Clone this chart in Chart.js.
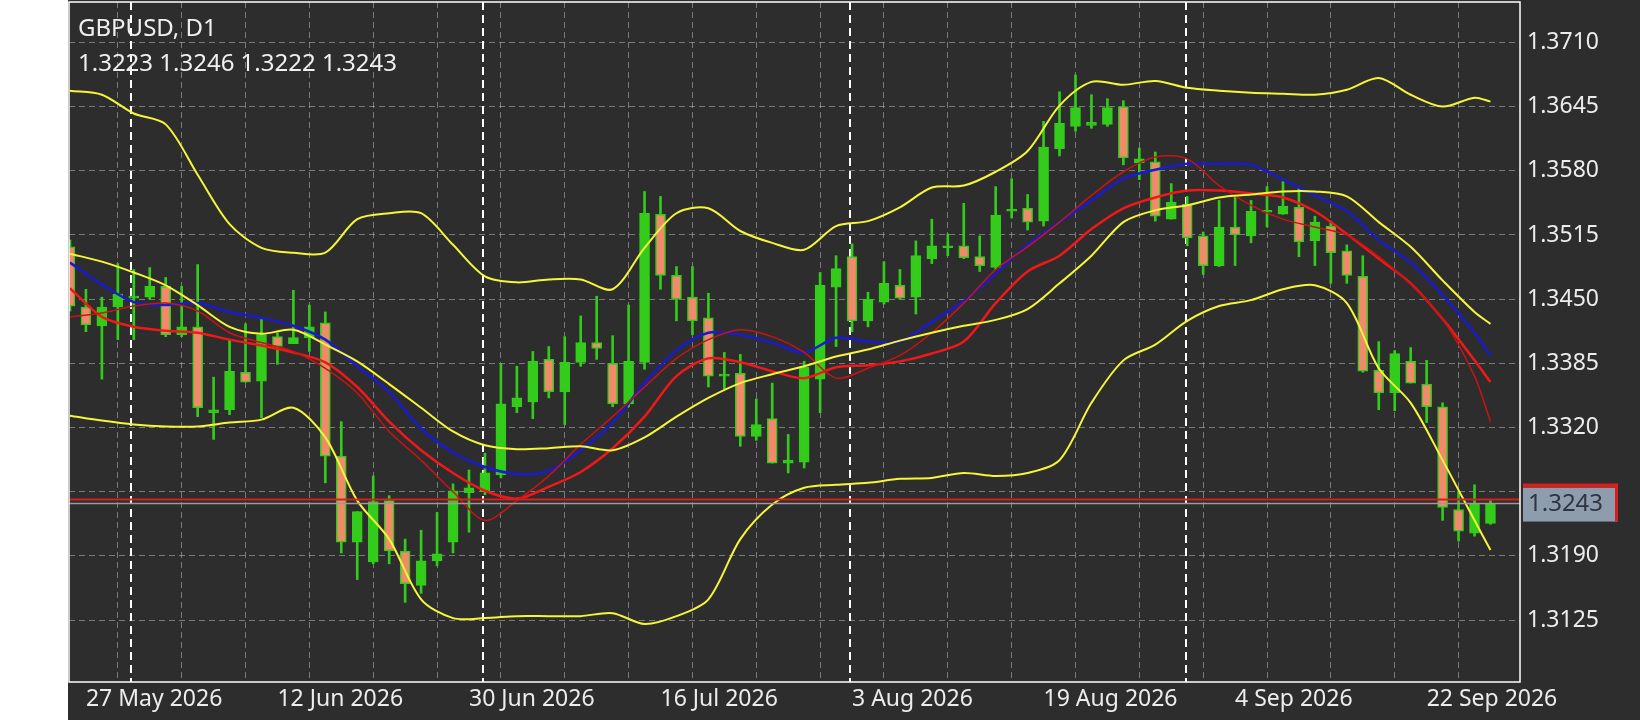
<!DOCTYPE html>
<html><head><meta charset="utf-8">
<script src="https://cdn.jsdelivr.net/npm/chart.js@4"></script>
<style>html,body{margin:0;padding:0;background:#2d2d2d;}#wrap{width:1640px;height:720px;}</style>
</head><body><div id="wrap"><canvas id="c" width="1640" height="720"></canvas></div>
<script>
const symbolTitle = "GBPUSD, D1";
const ohlcTitle = "1.3223 1.3246 1.3222 1.3243";
const opens  = [1.3503,1.3442,1.3423,1.3442,1.3451,1.3452,1.3463,1.3414,1.3422,1.3335,1.3338,1.3376,1.3367,1.3412,1.3405,1.3411,1.3426,1.3291,1.3204,1.3184,1.3246,1.3195,1.3160,1.3185,1.3204,1.3254,1.3255,1.3272,1.3341,1.3346,1.3389,1.3356,1.3386,1.3406,1.3385,1.3344,1.3386,1.3536,1.3474,1.3452,1.3431,1.3372,1.3375,1.3311,1.3329,1.3284,1.3285,1.3369,1.3462,1.3493,1.3428,1.3447,1.3464,1.3452,1.3491,1.3502,1.3504,1.3493,1.3482,1.3539,1.3542,1.3529,1.3602,1.3625,1.3626,1.3627,1.3645,1.3588,1.3589,1.3531,1.3546,1.3514,1.3484,1.3523,1.3514,1.3538,1.3536,1.3543,1.3509,1.3524,1.3499,1.3473,1.3378,1.3355,1.3387,1.3364,1.3341,1.3237,1.3213,1.3223];
const highs  = [1.3510,1.3460,1.3452,1.3486,1.3480,1.3482,1.3472,1.3463,1.3485,1.3371,1.3409,1.3425,1.3430,1.3416,1.3459,1.3444,1.3437,1.3326,1.3235,1.3271,1.3251,1.3207,1.3216,1.3234,1.3263,1.3277,1.3294,1.3385,1.3382,1.3397,1.3402,1.3412,1.3433,1.3453,1.3413,1.3444,1.3559,1.3554,1.3483,1.3483,1.3456,1.3396,1.3394,1.3349,1.3365,1.3313,1.3387,1.3477,1.3494,1.3506,1.3457,1.3488,1.3480,1.3509,1.3531,1.3516,1.3547,1.3514,1.3564,1.3572,1.3556,1.3630,1.3660,1.3677,1.3657,1.3653,1.3651,1.3603,1.3599,1.3567,1.3554,1.3518,1.3550,1.3555,1.3550,1.3564,1.3569,1.3562,1.3534,1.3529,1.3505,1.3494,1.3407,1.3398,1.3401,1.3388,1.3345,1.3255,1.3262,1.3246];
const lows   = [1.3438,1.3417,1.3369,1.3409,1.3409,1.3450,1.3412,1.3412,1.3331,1.3308,1.3333,1.3366,1.3330,1.3384,1.3405,1.3397,1.3264,1.3193,1.3166,1.3182,1.3182,1.3143,1.3152,1.3180,1.3193,1.3214,1.3252,1.3269,1.3335,1.3329,1.3350,1.3323,1.3382,1.3389,1.3341,1.3341,1.3379,1.3460,1.3428,1.3414,1.3361,1.3359,1.3301,1.3307,1.3284,1.3274,1.3279,1.3335,1.3402,1.3417,1.3422,1.3445,1.3450,1.3435,1.3486,1.3494,1.3491,1.3478,1.3480,1.3532,1.3520,1.3524,1.3595,1.3620,1.3623,1.3625,1.3586,1.3571,1.3529,1.3531,1.3504,1.3475,1.3483,1.3484,1.3507,1.3523,1.3536,1.3493,1.3484,1.3466,1.3466,1.3376,1.3338,1.3337,1.3365,1.3325,1.3226,1.3205,1.3210,1.3222];
const closes = [1.3443,1.3424,1.3442,1.3455,1.3453,1.3463,1.3414,1.3422,1.3340,1.3338,1.3377,1.3366,1.3414,1.3402,1.3411,1.3422,1.3291,1.3204,1.3235,1.3245,1.3195,1.3162,1.3185,1.3192,1.3256,1.3259,1.3274,1.3344,1.3350,1.3387,1.3356,1.3386,1.3406,1.3400,1.3344,1.3387,1.3537,1.3474,1.3450,1.3428,1.3372,1.3374,1.3311,1.3323,1.3284,1.3287,1.3381,1.3464,1.3481,1.3428,1.3450,1.3466,1.3451,1.3494,1.3504,1.3504,1.3492,1.3484,1.3535,1.3541,1.3528,1.3604,1.3628,1.3644,1.3629,1.3644,1.3593,1.3592,1.3534,1.3548,1.3512,1.3484,1.3523,1.3515,1.3539,1.3540,1.3544,1.3508,1.3528,1.3497,1.3474,1.3377,1.3355,1.3395,1.3365,1.3341,1.3239,1.3215,1.3243,1.3243];

// indicator readings taken at these bar positions
const sampleBars = [0,2,4,6,8,10,12,14,16,18,20,22,24,26,28,30,32,34,36,38,40,42,44,46,48,50,52,54,56,58,60,62,64,66,68,70,72,74,76,78,80,82,84,86,88,89];
const bbUpper  = [1.3661,1.3657,1.3638,1.3627,1.3576,1.3526,1.3502,1.3497,1.3497,1.3531,1.3537,1.3537,1.3505,1.3473,1.3467,1.3470,1.3470,1.3460,1.3502,1.3537,1.3542,1.3519,1.3507,1.3500,1.3524,1.3529,1.3543,1.3563,1.3565,1.3579,1.3600,1.3646,1.3670,1.3667,1.3671,1.3664,1.3661,1.3659,1.3658,1.3657,1.3662,1.3674,1.3657,1.3645,1.3654,1.3650];
const bbMiddle = [1.3496,1.3488,1.3477,1.3464,1.3444,1.3422,1.3415,1.3419,1.3404,1.3387,1.3364,1.3340,1.3316,1.3302,1.3298,1.3299,1.3301,1.3297,1.3310,1.3331,1.3350,1.3365,1.3374,1.3382,1.3392,1.3399,1.3408,1.3416,1.3423,1.3429,1.3440,1.3466,1.3494,1.3528,1.3540,1.3545,1.3553,1.3556,1.3559,1.3559,1.3554,1.3528,1.3503,1.3469,1.3437,1.3425];
const bbLower  = [1.3332,1.3327,1.3323,1.3321,1.3321,1.3325,1.3328,1.3340,1.3310,1.3246,1.3207,1.3146,1.3127,1.3127,1.3129,1.3129,1.3129,1.3132,1.3121,1.3129,1.3146,1.3207,1.3242,1.3259,1.3262,1.3264,1.3268,1.3269,1.3274,1.3271,1.3274,1.3287,1.3345,1.3388,1.3404,1.3428,1.3443,1.3449,1.3460,1.3464,1.3446,1.3380,1.3345,1.3287,1.3226,1.3196];
const maBlue   = [1.3487,1.3465,1.3447,1.3444,1.3446,1.3437,1.3431,1.3423,1.3409,1.3382,1.3356,1.3319,1.3295,1.3280,1.3273,1.3276,1.3297,1.3325,1.3365,1.3398,1.3416,1.3414,1.3406,1.3396,1.3411,1.3407,1.3407,1.3427,1.3448,1.3476,1.3505,1.3528,1.3550,1.3572,1.3581,1.3587,1.3587,1.3586,1.3571,1.3555,1.3539,1.3510,1.3487,1.3454,1.3416,1.3393];
const maRed    = [1.3461,1.3432,1.3422,1.3418,1.3416,1.3409,1.3403,1.3396,1.3386,1.3361,1.3326,1.3297,1.3274,1.3256,1.3248,1.3260,1.3275,1.3299,1.3331,1.3372,1.3390,1.3386,1.3377,1.3370,1.3381,1.3383,1.3387,1.3395,1.3407,1.3446,1.3478,1.3494,1.3521,1.3542,1.3553,1.3560,1.3560,1.3557,1.3553,1.3539,1.3516,1.3491,1.3466,1.3430,1.3388,1.3366];
const maDarkRed= [1.3432,1.3436,1.3443,1.3446,1.3438,1.3416,1.3406,1.3397,1.3380,1.3355,1.3316,1.3287,1.3255,1.3226,1.3246,1.3271,1.3303,1.3331,1.3361,1.3390,1.3409,1.3419,1.3412,1.3396,1.3370,1.3380,1.3393,1.3416,1.3446,1.3480,1.3503,1.3528,1.3555,1.3579,1.3594,1.3592,1.3565,1.3545,1.3531,1.3523,1.3515,1.3493,1.3465,1.3430,1.3372,1.3326];

const priceTicks = [1.3125,1.3190,1.3255,1.3320,1.3385,1.3450,1.3515,1.3580,1.3645,1.3710];
const hiddenPriceTick = 1.3255;
const dateLabels = {1:"27 May 2026",13:"12 Jun 2026",25:"30 Jun 2026",37:"16 Jul 2026",49:"3 Aug 2026",61:"19 Aug 2026",73:"4 Sep 2026",85:"22 Sep 2026"};
const separatorBars = [3.85,25.85,48.9,69.9];
const bidPrice = 1.3243, askPrice = 1.3247;

const BULL = '#33cc1a', BEAR = '#f08a6a', WICK = '#33cc1a', FONT = '"Noto Sans", sans-serif';
const idx = opens.map((_, i) => i);
const wicks = idx.map(i => ({x: i, y: [lows[i], highs[i]]}));
const bodies = idx.map(i => ({x: i, y: [opens[i], closes[i]]}));
const bodyColors = idx.map(i => closes[i] >= opens[i] ? BULL : BEAR);
const line = (vals) => sampleBars.map((b, k) => ({x: b, y: vals[k]}));
function lds(label, vals, color, w) {
  return {type: 'line', label, data: line(vals), borderColor: color, borderWidth: w, pointRadius: 0, tension: 0.3, spanGaps: true, order: 1, fill: false};
}

const bgPlugin = {
  id: 'bg',
  beforeDraw(chart) {
    const {ctx, chartArea: a} = chart;
    ctx.save();
    ctx.fillStyle = '#2d2d2d'; ctx.fillRect(0, 0, chart.width, chart.height);
    ctx.fillStyle = '#ffffff'; ctx.fillRect(0, 0, a.left - 1, chart.height);
    ctx.restore();
  },
  beforeDatasetsDraw(chart) {
    const {ctx, chartArea: a, scales: {x}} = chart;
    ctx.save();
    ctx.strokeStyle = '#ffffff'; ctx.lineWidth = 2; ctx.setLineDash([8, 5]);
    separatorBars.forEach(b => { const px = Math.round(x.getPixelForValue(b)); ctx.beginPath(); ctx.moveTo(px, a.top); ctx.lineTo(px, a.bottom); ctx.stroke(); });
    ctx.restore();
  },
  afterDatasetsDraw(chart) {
    const {ctx, chartArea: a, scales: {y}} = chart;
    ctx.save();
    const ya = y.getPixelForValue(askPrice), yb = y.getPixelForValue(bidPrice);
    ctx.lineWidth = 2; ctx.strokeStyle = '#d81e1e';
    ctx.beginPath(); ctx.moveTo(a.left, ya); ctx.lineTo(a.right, ya); ctx.stroke();
    ctx.strokeStyle = '#9a9a9a'; ctx.lineWidth = 1.5;
    ctx.beginPath(); ctx.moveTo(a.left, yb); ctx.lineTo(a.right, yb); ctx.stroke();
    ctx.strokeStyle = '#ffffff'; ctx.lineWidth = 1.5;
    ctx.strokeRect(a.left, a.top, a.right - a.left, a.bottom - a.top);
    ctx.fillStyle = '#f0f0f0'; ctx.font = '24px ' + FONT; ctx.textBaseline = 'alphabetic'; ctx.textAlign = 'left';
    ctx.fillText(symbolTitle, 78, 36);
    ctx.fillText(ohlcTitle, 78, 71);
    const bx = a.right + 3, bw = 95, bh = 34, by = yb - bh / 2 + 1;
    ctx.fillStyle = '#8d9dae'; ctx.fillRect(bx, by, bw, bh);
    ctx.fillStyle = '#d81e1e'; ctx.fillRect(bx, by - 4, bw, 4); ctx.fillRect(bx + bw - 3, by - 4, 3, bh + 4);
    ctx.fillStyle = '#2e3440'; ctx.font = '24px ' + FONT; ctx.textBaseline = 'middle';
    ctx.fillText(bidPrice.toFixed(4), bx + 5, yb + 1);
    ctx.restore();
  }
};

new Chart(document.getElementById('c'), {
  type: 'bar',
  data: {
    datasets: [
      lds('BB upper', bbUpper, '#f5f53a', 2),
      lds('BB middle', bbMiddle, '#f5f53a', 2),
      lds('BB lower', bbLower, '#f5f53a', 2),
      lds('MA dark red', maDarkRed, '#c81414', 1.5),
      lds('MA red', maRed, '#f01818', 2.5),
      lds('MA blue', maBlue, '#1a1ad0', 2.5),
      {type: 'bar', label: 'wick', data: wicks, backgroundColor: WICK, barThickness: 2, grouped: false, order: 12, minBarLength: 1},
      {type: 'bar', label: 'body', data: bodies, backgroundColor: bodyColors, borderColor: BULL, borderWidth: 1.5, borderSkipped: false, barThickness: 10, grouped: false, order: 11, minBarLength: 2}
    ]
  },
  options: {
    responsive: false, animation: false, devicePixelRatio: 1,
    layout: {padding: {left: 69, top: 2, right: 0, bottom: 0}},
    plugins: {legend: {display: false}, tooltip: {enabled: false}},
    scales: {
      x: {
        type: 'linear', min: -0.06, max: 90.85, offset: false,
        afterBuildTicks(s) { const t = []; for (let v = 1; v <= 89; v += 4) t.push({value: v}); s.ticks = t; },
        afterFit(s) { s.height = 38; s.paddingLeft = 0; s.paddingRight = 0; },
        ticks: {autoSkip: false, maxRotation: 0, align: 'start', color: '#ececec', font: {family: FONT, size: 23}, padding: 4,
          callback: v => dateLabels[v] || ''},
        grid: {color: 'rgba(185,185,185,0.55)', lineWidth: 1, drawTicks: false},
        border: {display: false, dash: [6, 4]}
      },
      y: {
        position: 'right', min: 1.30623, max: 1.37509,
        afterBuildTicks(s) { s.ticks = priceTicks.map(v => ({value: v})); },
        afterFit(s) { s.width = 120; s.paddingTop = 0; s.paddingBottom = 0; },
        ticks: {color: '#ececec', font: {family: FONT, size: 23}, padding: 7,
          callback: v => Math.abs(v - hiddenPriceTick) < 1e-6 ? '' : v.toFixed(4)},
        grid: {color: 'rgba(185,185,185,0.55)', lineWidth: 1, drawTicks: false},
        border: {display: false, dash: [6, 4]}
      }
    }
  },
  plugins: [bgPlugin]
});
</script></body></html>
